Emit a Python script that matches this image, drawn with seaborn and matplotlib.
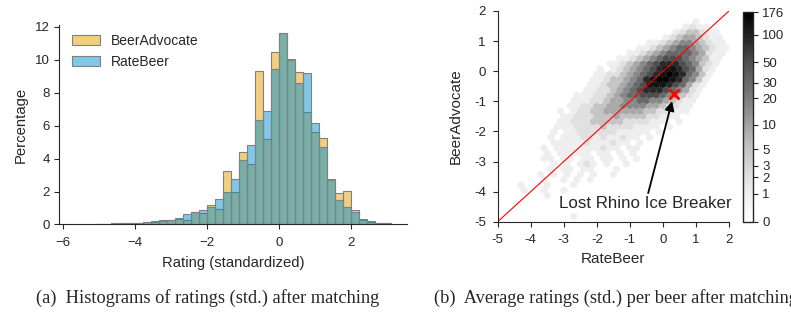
import numpy as np
import pandas as pd
import matplotlib
matplotlib.use('Agg')
import matplotlib.pyplot as plt
import matplotlib.colors as mcolors
import matplotlib.ticker as mticker
import seaborn as sns

# (a) histogram of standardized ratings, percent per bin (bin width 2/9)
bin_edges = [i * 2 / 9 for i in range(-23, 15)]
ba_pct = [0.04, 0.02, 0.06, 0.06, 0.08, 0.10, 0.14, 0.14, 0.30, 0.28,
          0.32, 0.28, 0.75, 0.71, 1.17, 0.93, 3.24, 1.98, 4.41, 3.66,
          9.31, 5.16, 10.45, 11.65, 10.05, 9.23, 6.80, 5.59, 5.24, 2.75,
          1.94, 2.06, 0.85, 0.30, 0.16, 0.10, 0.10]
rb_pct = [0.02, 0.02, 0.04, 0.06, 0.08, 0.10, 0.14, 0.20, 0.24, 0.30,
          0.42, 0.63, 0.73, 0.87, 1.07, 1.52, 1.98, 2.73, 3.91, 4.82,
          6.32, 6.90, 9.41, 11.60, 10.00, 8.56, 9.19, 6.13, 4.72, 2.70,
          1.48, 1.09, 0.73, 0.35, 0.24, 0.12, 0.12]
bin_centers = [(a + b) / 2 for a, b in zip(bin_edges[:-1], bin_edges[1:])]

# (b) hexbin counts: (y, first x, levels); '.' = empty cell
level_counts = {'1': 1, '2': 2, '3': 5, '4': 9, '5': 16, '6': 30,
                '7': 50, '8': 85, '9': 125, 'a': 176}
hex_rows = [
    (1.65, 1.0, "1"),
    (1.475, 0.7, "1211"),
    (1.3, 0.4, "1233211"),
    (1.125, 0.1, "123443211"),
    (0.95, -0.4, "112345543211"),
    (0.775, -0.7, "11234566543211"),
    (0.6, -1.0, "112345666654211"),
    (0.425, -1.3, "1123456777654311"),
    (0.25, -1.6, "11234567888765321"),
    (0.075, -1.9, "1.1234567899876421"),
    (-0.1, -2.0, "11223456789a986531"),
    (-0.275, -2.1, "1123345689aa986531"),
    (-0.45, -2.2, "112334567999876421"),
    (-0.625, -2.3, "112234567888765421"),
    (-0.8, -2.6, "1112234566777654321"),
    (-0.975, -2.7, "1112234455665543211"),
    (-1.15, -2.8, "1122334455554432211"),
    (-1.325, -3.1, "1.122334444443322111"),
    (-1.5, -3.0, "112223334333322111"),
    (-1.675, -3.1, "11222333332222111.1"),
    (-1.85, -3.2, "1112222322221111.1"),
    (-2.025, -3.3, "1.1122222211111.1"),
    (-2.2, -3.4, "1.111221211211.1"),
    (-2.375, -3.3, "111112111211.1"),
    (-2.55, -3.6, "1.1111111211.11"),
    (-2.725, -3.5, "1.11111.11.1.1"),
    (-2.9, -3.6, "11.11.11.11.1.1"),
    (-3.075, -3.3, "1.1.121.1..1"),
    (-3.25, -3.4, "1.11.11...1"),
    (-3.425, -3.7, "1.1.1.1.1..1"),
    (-3.6, -3.6, "1..1.1.1"),
    (-3.775, -4.3, "1...1...1"),
    (-3.95, -4.2, "1..1..1"),
    (-4.125, -3.5, "1"),
    (-4.825, -2.7, "1"),
]
cbar_ticks = [0, 1, 2, 3, 5, 10, 20, 30, 50, 100, 176]
lost_rhino_rb = [0.33]
lost_rhino_ba = [-0.77]

sns.set_style('ticks', {'xtick.major.size': 4.3, 'ytick.major.size': 4.3})
plt.rcParams['font.family'] = ['Liberation Sans', 'DejaVu Sans']

fig = plt.figure(figsize=(7.91, 3.16), dpi=100)

# ---- (a) ----
hist_df = pd.DataFrame({'rating': bin_centers, 'ba': ba_pct, 'rb': rb_pct})
ax1 = fig.add_axes([0.075, 0.2896, 0.439, 0.631])
sns.histplot(data=hist_df, x='rating', weights='ba', bins=bin_edges, color='#E69F00',
             alpha=0.5, edgecolor='gray', linewidth=0.8, label='BeerAdvocate', ax=ax1)
sns.histplot(data=hist_df, x='rating', weights='rb', bins=bin_edges, color='#0093D1',
             alpha=0.5, edgecolor='gray', linewidth=0.8, label='RateBeer', ax=ax1)
ax1.set_xlim(-6.11, 3.53)
ax1.set_ylim(0, 12.1)
ax1.set_xticks([-6, -4, -2, 0, 2])
ax1.set_yticks([0, 2, 4, 6, 8, 10, 12])
ax1.set_xlabel('Rating (standardized)', fontsize=10.7, labelpad=5)
ax1.set_ylabel('Percentage', fontsize=10.7, labelpad=5)
ax1.tick_params(labelsize=9.5)
ax1.tick_params(axis='x', pad=5.5)
ax1.legend(loc='upper left', bbox_to_anchor=(0.0, 1.02), frameon=False, fontsize=10)
sns.despine(ax=ax1)

# ---- (b) ----
xs, ys, cs = [], [], []
for y, x0, levels in hex_rows:
    for k, ch in enumerate(levels):
        if ch != '.':
            xs.append(x0 + 0.2 * k)
            ys.append(y)
            cs.append(level_counts[ch])

ax2 = fig.add_axes([0.6292, 0.2984, 0.2924, 0.6668])
norm = mcolors.FuncNorm((np.log1p, np.expm1), vmin=0, vmax=176)
hb = ax2.hexbin(xs, ys, C=cs, reduce_C_function=np.sum, gridsize=35,
                extent=(-5, 2, -5, 2), cmap='Greys', norm=norm, linewidths=0.2)
ax2.axline((0, 0), slope=1, color='red', lw=0.8)
ax2.plot(lost_rhino_rb, lost_rhino_ba, marker='x', color='red', ms=7, mew=2, ls='none')
ax2.annotate('Lost Rhino Ice Breaker', xy=(lost_rhino_rb[0], lost_rhino_ba[0]),
             xytext=(-0.53, -4.41), ha='center', va='center', fontsize=12.2,
             arrowprops=dict(arrowstyle='-|>', color='black', lw=1.3,
                             mutation_scale=14, shrinkA=0, shrinkB=5))
ax2.set_xlim(-5, 2)
ax2.set_ylim(-5, 2)
ax2.set_xticks(range(-5, 3))
ax2.set_yticks(range(-5, 3))
ax2.xaxis.set_major_formatter(mticker.FormatStrFormatter('%d'))
ax2.yaxis.set_major_formatter(mticker.FormatStrFormatter('%d'))
ax2.tick_params(labelsize=9.5, pad=5)
ax2.set_xlabel('RateBeer', fontsize=11, labelpad=5)
ax2.set_ylabel('BeerAdvocate', fontsize=11, labelpad=8)
sns.despine(ax=ax2)

cax = fig.add_axes([0.939, 0.2975, 0.0126, 0.6645])
cb = fig.colorbar(hb, cax=cax, ticks=cbar_ticks)
cb.ax.set_yticklabels([str(t) for t in cbar_ticks])
cb.ax.tick_params(labelsize=9.5, length=3.5)
cb.outline.set_linewidth(1)

fig.text(36 / 791, 0.057, '(a)  Histograms of ratings (std.) after matching',
         family='Liberation Serif', fontsize=13.2, va='center')
fig.text(434 / 791, 0.057, '(b)  Average ratings (std.) per beer after matching',
         family='Liberation Serif', fontsize=13.2, va='center')

fig.savefig('out.png', dpi=100)
